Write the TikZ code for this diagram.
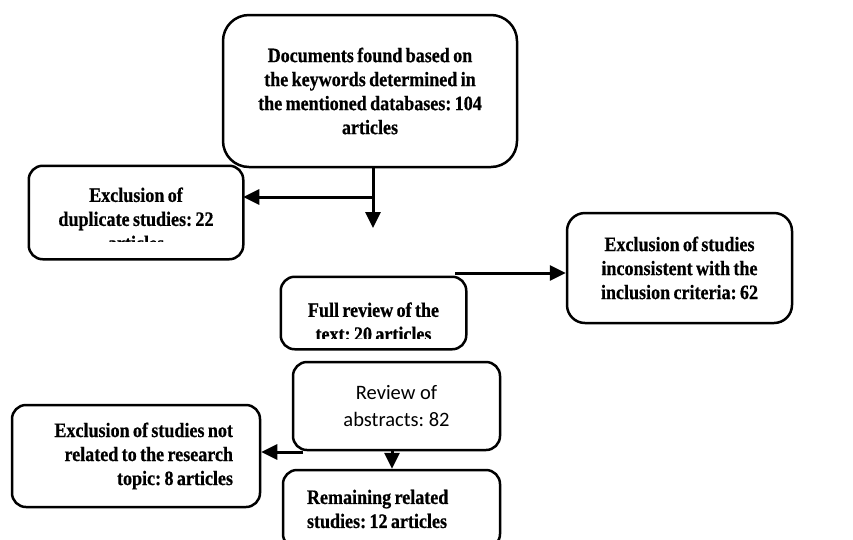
\documentclass[tikz,border=0pt]{standalone}
\usepackage{fontspec}
\setmainfont{Liberation Serif}[BoldFeatures={FakeStretch=0.88,FakeBold=0.6,WordSpace=0.75}]
\newfontfamily\calfont{Carlito}
\usetikzlibrary{arrows.meta}
\frenchspacing

\begin{document}
\begin{tikzpicture}[x=1pt,y=-1pt]
			\tikzstyle{every node}+=[inner sep=0pt]
			\tikzstyle{stage}=[draw=black, line width=2.5pt, rounded corners=14pt, font=\bfseries\fontsize{20.5}{24}\selectfont, align=center]
			\tikzstyle{frame}=[black, line width=2.5pt, rounded corners=14pt]
			\tikzstyle{flow}=[black, line width=3pt, -{Triangle[length=16pt,width=15pt]}]
			\useasboundingbox (0,0) rectangle (853,539);
			\fill [white] (0,0) rectangle (853,539);
			\node [stage, rounded corners=26pt, minimum width=294, minimum height=152] (found) at (370,91) {Documents found based on\\the keywords determined in\\the mentioned databases: 104\\articles};
			\begin{scope}
				\clip (30,167) rectangle (242,241);
				\node [stage, draw=none, minimum width=212, minimum height=91] (dup) at (136,212.5) {\rule{0pt}{27pt}Exclusion of\\duplicate studies: 22\\articles};
			\end{scope}
			\draw [frame] (dup.north west) rectangle (dup.south east);
			\begin{scope}
				\clip (282,278) rectangle (465,338);
				\node [stage, draw=none, minimum width=183, minimum height=70] (full) at (373.5,313) {\rule{0pt}{32pt}Full review of the\\text: 20 articles};
			\end{scope}
			\draw [frame] (full.north west) rectangle (full.south east);
			\node [stage, rounded corners=18pt, minimum width=225, minimum height=110] (incl) at (679.5,268) {Exclusion of studies\\inconsistent with the\\inclusion criteria: 62};
			\node [stage, font=\calfont\fontsize{20.5}{27}\selectfont, minimum width=207, minimum height=88] (abs) at (396.5,406) {Review of\\abstracts: 82};
			\node [stage, align=flush right, text width=194, minimum width=248, minimum height=102] (notrel) at (136,456) {Exclusion of studies not\\related to the research\\topic: 8 articles};
			\node [stage, align=flush left, text width=169, minimum width=217, minimum height=78] (rem) at (391.5,509) {Remaining related\\studies: 12 articles};
			\coordinate (split) at (373,197);
			\coordinate (drop) at (373,228);
			\coordinate (fullout) at (455,273);
			\coordinate (absout) at (303,452);
			\draw [black, line width=3pt] (found.south -| split) -- (split);
			\draw [flow] (split) -- (drop);
			\draw [flow] (split) -- (split -| dup.east);
			\draw [flow] (fullout) -- (fullout -| incl.west);
			\draw [flow] (absout) -- (absout -| notrel.east);
			\draw [flow] ([xshift=-4.5pt]abs.south) -- ([xshift=-4.5pt]abs.south |- rem.north);
		\end{tikzpicture}
\end{document}
